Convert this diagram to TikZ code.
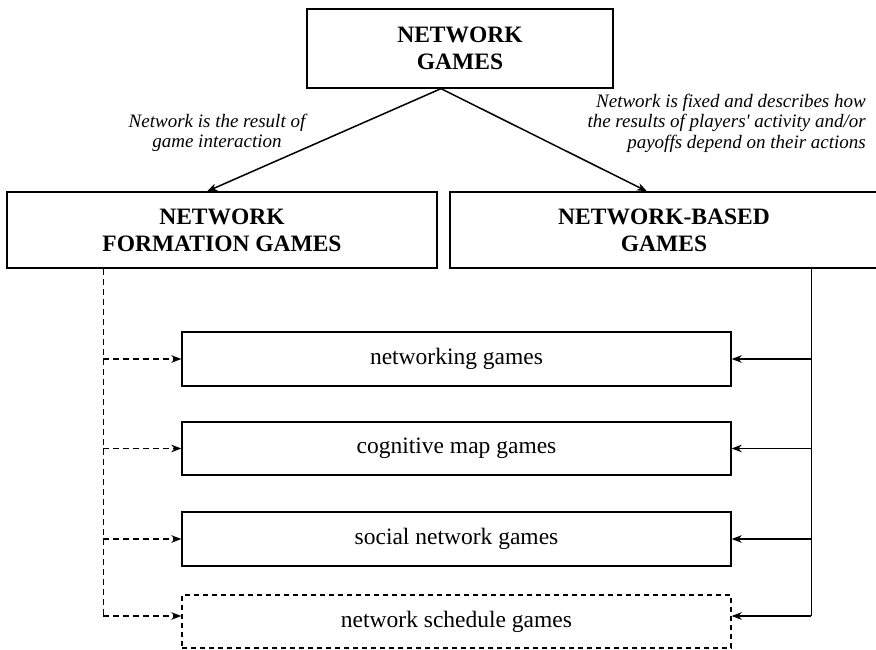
\documentclass[tikz,border=0pt]{standalone}
\usepackage{fontspec}
\setmainfont{Liberation Serif}
\usetikzlibrary{arrows.meta}
\begin{document}
\begin{tikzpicture}[x=1pt,y=-1pt,
  box/.style={draw, line width=1.3pt, inner sep=0pt, align=center},
  hdr/.style={box, font=\fontsize{23.5}{27}\selectfont\bfseries},
  sub/.style={box, minimum width=549pt, font=\fontsize{23.5}{27}\selectfont},
  lbl/.style={font=\fontsize{19}{20.5}\selectfont\itshape, inner sep=0pt},
  arr/.style={-{Stealth[length=10pt,width=7.5pt,inset=3pt]}, line width=1.5pt},
  dsh/.style={dash pattern=on 6pt off 4pt}]
\useasboundingbox (0,0) rectangle (876,650);
% main boxes
\node[hdr, minimum width=306pt, minimum height=79pt] (top) at (460,48.5) {NETWORK\\GAMES};
\node[hdr, minimum width=430pt, minimum height=76pt] (lf) at (222,230) {NETWORK\\FORMATION GAMES};
\node[hdr, minimum width=428pt, minimum height=76pt] (rt) at (664,230) {NETWORK-BASED\\GAMES};
% sub boxes
\node[sub, minimum height=54pt] (b1) at (456.5,359) {networking games};
\node[sub, minimum height=53pt] (b2) at (456.5,448.5) {cognitive map games};
\node[sub, minimum height=54pt] (b3) at (456.5,539) {social network games};
\node[sub, minimum height=53pt, dash pattern=on 5pt off 4pt] (b4) at (456.5,621.5) {network schedule games};
% labels
\node[lbl, align=center] (ll) at (217,133) {Network is the result of\\game interaction};
\node[lbl, align=right, anchor=east] (rl) at (866,123) {Network is fixed and describes how\\the results of players\textquotesingle{} activity and/or\\payoffs depend on their actions};
% top arrows
\coordinate (apex) at ([xshift=-19pt]top.south);
\coordinate (lend) at ([xshift=-15pt]lf.north);
\coordinate (rend) at ([xshift=-17pt]rt.north);
\draw[arr] (apex) -- (lend);
\draw[arr] (apex) -- (rend);
% left dashed trunk
\coordinate (dtop) at ([xshift=97pt]lf.south west);
\coordinate (b4w) at ([yshift=5.5pt]b4.west);
\coordinate (b4e) at ([yshift=5.5pt]b4.east);
\draw[dsh, line width=1.5pt] (dtop) -- (dtop |- b4w);
\draw[arr, dsh] (dtop |- b1.west) -- (b1.west);
\draw[arr, dsh] (dtop |- b2.west) -- (b2.west);
\draw[arr, dsh] (dtop |- b3.west) -- (b3.west);
\draw[arr, dsh] (dtop |- b4w) -- (b4w);
% right solid trunk
\coordinate (stop) at ([xshift=362pt]rt.south west);
\draw[line width=1.5pt] (stop) -- (stop |- b4e);
\draw[arr] (stop |- b1.east) -- (b1.east);
\draw[arr] (stop |- b2.east) -- (b2.east);
\draw[arr] (stop |- b3.east) -- (b3.east);
\draw[arr] (stop |- b4e) -- (b4e);
\end{tikzpicture}
\end{document}
